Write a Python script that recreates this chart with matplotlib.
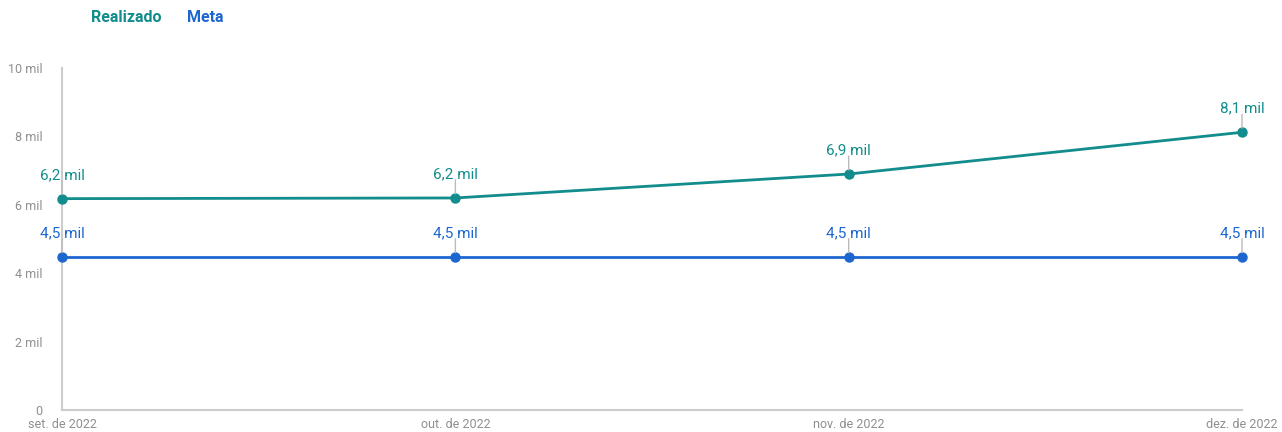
import numpy as np
import matplotlib.pyplot as plt

plt.rcParams['font.family'] = ['Roboto', 'DejaVu Sans']

months = ['set. de 2022', 'out. de 2022', 'nov. de 2022', 'dez. de 2022']
realizado = [6180, 6200, 6900, 8120]
meta = [4480, 4480, 4480, 4480]
realizado_lbl = ['6,2 mil', '6,2 mil', '6,9 mil', '8,1 mil']
meta_lbl = ['4,5 mil', '4,5 mil', '4,5 mil', '4,5 mil']
yticks = [0, 2000, 4000, 6000, 8000, 10000]
ytick_lbl = ['0', '2 mil', '4 mil', '6 mil', '8 mil', '10 mil']

teal = '#128c8c'
blue = '#1e66cf'

fig = plt.figure(figsize=(12.82, 4.32), dpi=100)
ax = fig.add_axes([0.0484, 0.0509, 0.9204, 0.7917])

x = np.arange(len(months))
ax.plot(x, realizado, color=teal, lw=2, marker='o', ms=6.5, zorder=3, clip_on=False)
ax.plot(x, meta, color=blue, lw=2, marker='o', ms=6.5, zorder=3, clip_on=False)

# data labels with a short leader line above each point
for xs, ys, lbls, c in [(x, realizado, realizado_lbl, teal), (x, meta, meta_lbl, blue)]:
    for xi, yi, l in zip(xs, ys, lbls):
        ax.annotate('', xy=(xi, yi), xytext=(0, 13), textcoords='offset points',
                    arrowprops=dict(arrowstyle='-', color='#bbbbbb', lw=1, shrinkA=0, shrinkB=3))
        ax.annotate(l, xy=(xi, yi), xytext=(0, 12), textcoords='offset points',
                    ha='center', va='bottom', color=c, fontsize=11)

ax.set_xlim(0, 3)
ax.set_ylim(0, 10000)
ax.set_yticks(yticks)
ax.set_yticklabels(ytick_lbl)
ax.set_xticks(x)
ax.set_xticklabels(months)
ax.tick_params(length=0, colors='#8f8f8f', labelsize=9)
ax.tick_params(axis='y', pad=14)
ax.tick_params(axis='x', pad=6)
for s in ['top', 'right']:
    ax.spines[s].set_visible(False)
for s in ['left', 'bottom']:
    ax.spines[s].set_color('#cccccc')
    ax.spines[s].set_linewidth(1.5)

fig.text(91 / 1282, 1 - 18 / 432, 'Realizado', color=teal, fontsize=11.5, fontweight='bold', va='center')
fig.text(187 / 1282, 1 - 18 / 432, 'Meta', color=blue, fontsize=11.5, fontweight='bold', va='center')

plt.savefig('out.png')
